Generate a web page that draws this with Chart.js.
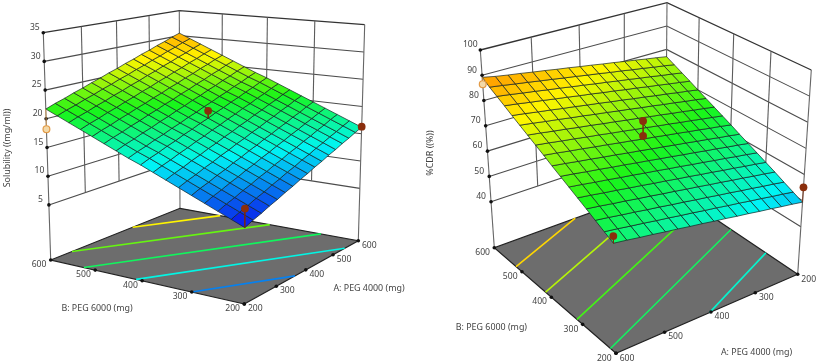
<!DOCTYPE html>
<html>
<head>
<meta charset="utf-8">
<title>Response surfaces</title>
<script src="https://cdn.jsdelivr.net/npm/chart.js@4"></script>
<style>
  body { margin: 0; background: #fff; }
  canvas { position: absolute; top: 0; }
</style>
</head>
<body>
<canvas id="solChart" width="408" height="363" style="left:0"></canvas>
<canvas id="cdrChart" width="409" height="363" style="left:408px"></canvas>
<script>
// axis ticks
const factorTicks = [200, 300, 400, 500, 600];
const solTicks = [5, 10, 15, 20, 25, 30, 35];
const cdrTicks = [40, 50, 60, 70, 80, 90, 100];

// surface heights: rows are B 200..600, columns are A 200..600, step 25 mg
const gridStep = 25;
const solSurface = [
  [7.4,8.0,8.5,9.1,9.6,10.2,10.7,11.3,11.8,12.4,12.9,13.5,14.0,14.6,15.1,15.7,16.2],
  [8.3,8.9,9.4,10.0,10.5,11.1,11.6,12.2,12.7,13.3,13.8,14.4,14.9,15.5,16.0,16.6,17.1],
  [9.2,9.8,10.3,10.9,11.4,12.0,12.5,13.1,13.6,14.2,14.7,15.3,15.8,16.4,16.9,17.5,18.0],
  [10.1,10.7,11.2,11.8,12.3,12.9,13.4,14.0,14.5,15.1,15.6,16.2,16.7,17.3,17.8,18.4,18.9],
  [11.0,11.6,12.1,12.7,13.2,13.8,14.3,14.9,15.4,16.0,16.5,17.1,17.6,18.2,18.7,19.3,19.8],
  [11.9,12.5,13.0,13.6,14.1,14.7,15.2,15.8,16.3,16.9,17.4,18.0,18.5,19.1,19.6,20.2,20.7],
  [12.8,13.4,13.9,14.5,15.0,15.6,16.1,16.7,17.2,17.8,18.3,18.9,19.4,20.0,20.5,21.1,21.6],
  [13.7,14.3,14.8,15.4,15.9,16.5,17.0,17.6,18.1,18.7,19.2,19.8,20.3,20.9,21.4,22.0,22.5],
  [14.6,15.2,15.7,16.3,16.8,17.4,17.9,18.5,19.0,19.6,20.1,20.7,21.2,21.8,22.3,22.9,23.4],
  [15.4,16.0,16.5,17.1,17.6,18.2,18.7,19.3,19.8,20.4,20.9,21.5,22.0,22.6,23.1,23.7,24.2],
  [16.3,16.9,17.4,18.0,18.5,19.1,19.6,20.2,20.7,21.3,21.8,22.4,22.9,23.5,24.0,24.6,25.1],
  [17.2,17.8,18.3,18.9,19.4,20.0,20.5,21.1,21.6,22.2,22.7,23.3,23.8,24.4,24.9,25.5,26.0],
  [18.1,18.7,19.2,19.8,20.3,20.9,21.4,22.0,22.5,23.1,23.6,24.2,24.7,25.3,25.8,26.4,26.9],
  [19.0,19.6,20.1,20.7,21.2,21.8,22.3,22.9,23.4,24.0,24.5,25.1,25.6,26.2,26.7,27.3,27.8],
  [19.9,20.5,21.0,21.6,22.1,22.7,23.2,23.8,24.3,24.9,25.4,26.0,26.5,27.1,27.6,28.2,28.7],
  [20.8,21.4,21.9,22.5,23.0,23.6,24.1,24.7,25.2,25.8,26.3,26.9,27.4,28.0,28.5,29.1,29.6],
  [21.7,22.3,22.8,23.4,23.9,24.5,25.0,25.6,26.1,26.7,27.2,27.8,28.3,28.9,29.4,30.0,30.5],
];
const cdrSurface = [
  [49.4,50.2,50.9,51.7,52.4,53.2,53.9,54.7,55.4,56.2,56.9,57.7,58.4,59.2,59.9,60.7,61.4],
  [51.1,51.9,52.6,53.4,54.1,54.9,55.6,56.4,57.1,57.9,58.6,59.4,60.1,60.9,61.6,62.4,63.1],
  [52.8,53.6,54.3,55.1,55.8,56.6,57.3,58.1,58.8,59.6,60.3,61.1,61.8,62.6,63.3,64.1,64.8],
  [54.6,55.4,56.1,56.9,57.6,58.4,59.1,59.9,60.6,61.4,62.1,62.9,63.6,64.4,65.1,65.9,66.6],
  [56.3,57.1,57.8,58.6,59.3,60.1,60.8,61.6,62.3,63.1,63.8,64.6,65.3,66.1,66.8,67.6,68.3],
  [58.0,58.8,59.5,60.3,61.0,61.8,62.5,63.3,64.0,64.8,65.5,66.3,67.0,67.8,68.5,69.3,70.0],
  [59.7,60.5,61.2,62.0,62.7,63.5,64.2,65.0,65.7,66.5,67.2,68.0,68.7,69.5,70.2,71.0,71.7],
  [61.4,62.2,62.9,63.7,64.4,65.2,65.9,66.7,67.4,68.2,68.9,69.7,70.4,71.2,71.9,72.7,73.4],
  [63.2,64.0,64.7,65.5,66.2,67.0,67.7,68.5,69.2,70.0,70.7,71.5,72.2,73.0,73.7,74.5,75.2],
  [64.9,65.7,66.4,67.2,67.9,68.7,69.4,70.2,70.9,71.7,72.4,73.2,73.9,74.7,75.4,76.2,76.9],
  [66.6,67.4,68.1,68.9,69.6,70.4,71.1,71.9,72.6,73.4,74.1,74.9,75.6,76.4,77.1,77.9,78.6],
  [68.3,69.1,69.8,70.6,71.3,72.1,72.8,73.6,74.3,75.1,75.8,76.6,77.3,78.1,78.8,79.6,80.3],
  [70.0,70.8,71.5,72.3,73.0,73.8,74.5,75.3,76.0,76.8,77.5,78.3,79.0,79.8,80.5,81.3,82.0],
  [71.8,72.6,73.3,74.1,74.8,75.6,76.3,77.1,77.8,78.6,79.3,80.1,80.8,81.6,82.3,83.1,83.8],
  [73.5,74.3,75.0,75.8,76.5,77.3,78.0,78.8,79.5,80.3,81.0,81.8,82.5,83.3,84.0,84.8,85.5],
  [75.2,76.0,76.7,77.5,78.2,79.0,79.7,80.5,81.2,82.0,82.7,83.5,84.2,85.0,85.7,86.5,87.2],
  [76.9,77.7,78.4,79.2,79.9,80.7,81.4,82.2,82.9,83.7,84.4,85.2,85.9,86.7,87.4,88.2,89.2],
];

// contour levels on the floor
const solLevels = [11, 15, 19, 23, 27];
const cdrLevels = [55.5, 62.5, 69.5, 76.5, 83.5];

// design points
const solPointA = [200, 400, 600, 200];
const solPointB = [200, 400, 200, 600];
const solPointY = [10.4, 20.3, 16.3, 18.2];
const solBelow = [false, false, false, true];
const cdrPointA = [600, 400, 400, 200, 600];
const cdrPointB = [200, 400, 400, 200, 600];
const cdrPointY = [64, 76.2, 70.4, 55.1, 86.5];
const cdrBelow = [false, false, false, false, true];

// heights where the colour ramp passes blue, cyan, green, yellow, red
const solRamp = [8, 14.5, 21, 27, 37];
const cdrRamp = [40, 53, 67, 81, 100];
const rampColors = [[10, 30, 235], [0, 245, 245], [25, 245, 25], [255, 245, 0], [255, 20, 0]];

// camera of each panel: box corners on the page for (A,B) = (200,200), (600,200), (200,600), (600,600)
const solView = {
  floor: [[244.3, 304], [358.3, 240.7], [50.7, 260], [180, 208.3]],
  top: [[246, 52], [364.7, 24.7], [43.3, 32.7], [179.3, 10.7]],
  zFloor: -4.6, ticks: solTicks, wallA: 600, axisA: 200,
  xRange: [0, 408],
  zDot: [-8.5, -5.3], zTitle: [7, 148, "Solubility ((mg/ml))"],
  bTitle: [97, 308.5], aTitle: [369, 288.7],
};
const cdrView = {
  floor: [[797.7, 274.3], [616, 353.3], [665.5, 185.4], [494.3, 247.7]],
  top: [[811.3, 70], [611, 136], [667, 2.7], [480.3, 50]],
  zFloor: 21.8, ticks: cdrTicks, wallA: 200, axisA: 600,
  xRange: [408, 817],
  zDot: [-10, -5.2], zTitle: [430, 153, "%CDR ((%))"],
  bTitle: [491.4, 327], aTitle: [756.5, 352.3],
};

// maps the unit square onto four corners
function makeHomography(q) {
  const [p0, p1, p3, p2] = q;
  const dx1 = p1[0] - p2[0], dx2 = p3[0] - p2[0], sx = p0[0] - p1[0] + p2[0] - p3[0];
  const dy1 = p1[1] - p2[1], dy2 = p3[1] - p2[1], sy = p0[1] - p1[1] + p2[1] - p3[1];
  const det = dx1 * dy2 - dx2 * dy1;
  const g = (sx * dy2 - dx2 * sy) / det;
  const h = (dx1 * sy - sx * dy1) / det;
  const a = p1[0] - p0[0] + g * p1[0], b = p3[0] - p0[0] + h * p3[0];
  const d = p1[1] - p0[1] + g * p1[1], e = p3[1] - p0[1] + h * p3[1];
  return (u, v) => {
    const w = g * u + h * v + 1;
    return [(a * u + b * v + p0[0]) / w, (d * u + e * v + p0[1]) / w];
  };
}

// (A, B, height) to a point on the panel's x / y scales
function makeProjection(view) {
  const floorMap = makeHomography(view.floor);
  const topMap = makeHomography(view.top);
  const zTop = view.ticks[view.ticks.length - 1];
  return (a, b, z) => {
    const u = (a - 200) / 400, v = (b - 200) / 400;
    const f = floorMap(u, v), c = topMap(u, v);
    const t = (z - view.zFloor) / (zTop - view.zFloor);
    return { x: f[0] + (c[0] - f[0]) * t, y: f[1] + (c[1] - f[1]) * t };
  };
}

function rampColor(ramp, z) {
  let k = 0;
  while (k < ramp.length - 2 && z > ramp[k + 1]) k++;
  const t = Math.min(1, Math.max(0, (z - ramp[k]) / (ramp[k + 1] - ramp[k])));
  const c = rampColors[k].map((v, n) => Math.round(v + (rampColors[k + 1][n] - v) * t));
  return `rgb(${c[0]},${c[1]},${c[2]})`;
}

function lineSet(data, color, width) {
  return { data: data, showLine: true, fill: false, borderColor: color, borderWidth: width, pointRadius: 0 };
}

function polySet(data, fillColor, color, width) {
  return { data: data, showLine: true, fill: "shape", backgroundColor: fillColor, borderColor: color, borderWidth: width, pointRadius: 0 };
}

// end points of one contour on the floor, found on the grid lines of the surface
function contourEnds(table, level) {
  const hits = [];
  table.forEach((row, j) => {
    row.forEach((z, i) => {
      if (i < row.length - 1 && (z - level) * (row[i + 1] - level) <= 0) {
        hits.push([200 + gridStep * (i + (level - z) / (row[i + 1] - z)), 200 + gridStep * j]);
      }
      if (j < table.length - 1 && (z - level) * (table[j + 1][i] - level) <= 0) {
        hits.push([200 + gridStep * i, 200 + gridStep * (j + (level - z) / (table[j + 1][i] - z))]);
      }
    });
  });
  hits.sort((p, q) => p[0] - q[0]);
  return [hits[0], hits[hits.length - 1]];
}

function buildDatasets(view, table, levels, ramp, pointA, pointB, pointY, below) {
  const project = makeProjection(view);
  const ticks = view.ticks, zLow = ticks[0], zHigh = ticks[ticks.length - 1];
  const wallB = 600, otherA = view.wallA === 600 ? 200 : 600;
  const sets = [];

  // back walls
  ticks.forEach((z, n) => {
    const last = n === ticks.length - 1;
    const data = [project(otherA, wallB, z), project(view.wallA, wallB, z), project(view.wallA, 200, z)];
    sets.push(lineSet(data, last ? "#333" : "#4c4c4c", last ? 1.3 : 1.1));
  });
  factorTicks.slice(1, -1).forEach((t) => {
    sets.push(lineSet([project(t, wallB, zLow), project(t, wallB, zHigh)], "#5c5c5c", 1.1));
    sets.push(lineSet([project(view.wallA, t, zLow), project(view.wallA, t, zHigh)], "#5c5c5c", 1.1));
  });
  [[otherA, wallB], [view.wallA, wallB], [view.wallA, 200]].forEach((c) => {
    sets.push(lineSet([project(c[0], c[1], view.zFloor), project(c[0], c[1], zHigh)], "#666", 1.1));
  });

  // floor
  const floorRing = [[200, 200], [600, 200], [600, 600], [200, 600], [200, 200]].map((c) => project(c[0], c[1], view.zFloor));
  sets.push(polySet(floorRing, "#6d6d6d", "#222", 1.2));

  // contours, hidden behind the surface where it overlaps them
  levels.forEach((level) => {
    const ends = contourEnds(table, level);
    sets.push(lineSet(ends.map((p) => project(p[0], p[1], view.zFloor)), rampColor(ramp, level), 1.6));
  });

  // surface cells
  for (let j = 0; j < table.length - 1; j++) {
    for (let i = 0; i < table[j].length - 1; i++) {
      const a0 = 200 + gridStep * i, a1 = a0 + gridStep, b0 = 200 + gridStep * j, b1 = b0 + gridStep;
      const ring = [
        project(a0, b0, table[j][i]), project(a1, b0, table[j][i + 1]),
        project(a1, b1, table[j + 1][i + 1]), project(a0, b1, table[j + 1][i]), project(a0, b0, table[j][i]),
      ];
      const mid = (table[j][i] + table[j][i + 1] + table[j + 1][i] + table[j + 1][i + 1]) / 4;
      sets.push(polySet(ring, rampColor(ramp, mid), "rgba(20,35,35,0.78)", 0.9));
    }
  }

  // tick dots
  const dots = [];
  ticks.forEach((z) => dots.push(project(view.axisA, 600, z)));
  factorTicks.forEach((t) => {
    dots.push(project(t, 200, view.zFloor));
    dots.push(project(view.axisA, t, view.zFloor));
  });
  sets.push({ data: dots, showLine: false, pointRadius: 1.8, pointBackgroundColor: "#111", pointBorderWidth: 0 });

  // design points with their drop lines
  pointY.forEach((y, n) => {
    const i = (pointA[n] - 200) / gridStep, j = (pointB[n] - 200) / gridStep;
    const onSurface = project(pointA[n], pointB[n], table[j][i]);
    const at = project(pointA[n], pointB[n], y);
    sets.push(lineSet([at, onSurface], below[n] ? "#e0a050" : "#7a2a0a", 0.8));
    sets.push({
      data: [at], showLine: false, pointRadius: below[n] ? 3.4 : 3.9,
      pointBackgroundColor: below[n] ? "#f3d9a8" : "#8a2e0c",
      pointBorderColor: below[n] ? "#e39a45" : "#8a2e0c", pointBorderWidth: below[n] ? 1.2 : 0,
    });
  });

  // chart.js paints the first dataset on top
  return sets.reverse();
}

// tick and axis labels are placed through the same projection and scales
const labelPlugin = {
  id: "boxLabels",
  afterDraw(chart, args, opts) {
    const view = opts.view, project = makeProjection(view);
    const ctx = chart.ctx, sx = chart.scales.x, sy = chart.scales.y;
    const put = (text, x, y) => ctx.fillText(text, sx.getPixelForValue(x), sy.getPixelForValue(y));
    ctx.save();
    ctx.font = '8.6px "Noto Sans"';
    ctx.fillStyle = "#444";
    ctx.textAlign = "center";
    ctx.textBaseline = "middle";
    view.ticks.forEach((z) => {
      const p = project(view.axisA, 600, z);
      put(String(z), p.x + view.zDot[0], p.y + view.zDot[1]);
    });
    factorTicks.forEach((t) => {
      const pb = project(view.axisA, t, view.zFloor);
      put(String(t), pb.x - 11.7, pb.y + 4.8);
      const pa = project(t, 200, view.zFloor);
      put(String(t), pa.x + 11, pa.y + 4.8);
    });
    ctx.font = '8.9px "Noto Sans"';
    put("B: PEG 6000 (mg)", view.bTitle[0], view.bTitle[1]);
    put("A: PEG 4000 (mg)", view.aTitle[0], view.aTitle[1]);
    ctx.translate(sx.getPixelForValue(view.zTitle[0]), sy.getPixelForValue(view.zTitle[1]));
    ctx.rotate(-Math.PI / 2);
    ctx.fillText(view.zTitle[2], 0, 0);
    ctx.restore();
  },
};

function drawPanel(canvasId, view, datasets) {
  return new Chart(document.getElementById(canvasId), {
    type: "scatter",
    data: { datasets: datasets },
    options: {
      responsive: false,
      animation: false,
      layout: { padding: 0, autoPadding: false },
      elements: { line: { tension: 0 } },
      scales: {
        x: { type: "linear", display: false, min: view.xRange[0], max: view.xRange[1] },
        y: { type: "linear", display: false, min: 0, max: 363, reverse: true },
      },
      plugins: { legend: { display: false }, tooltip: { enabled: false }, boxLabels: { view: view } },
    },
    plugins: [labelPlugin],
  });
}

drawPanel("solChart", solView, buildDatasets(solView, solSurface, solLevels, solRamp, solPointA, solPointB, solPointY, solBelow));
drawPanel("cdrChart", cdrView, buildDatasets(cdrView, cdrSurface, cdrLevels, cdrRamp, cdrPointA, cdrPointB, cdrPointY, cdrBelow));
</script>
</body>
</html>
